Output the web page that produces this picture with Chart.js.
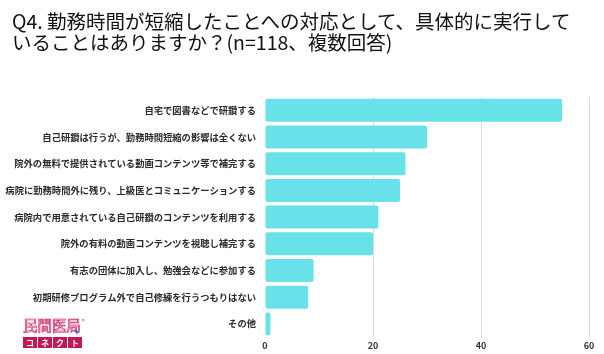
<!DOCTYPE html>
<html>
<head>
<meta charset="utf-8">
<script src="https://cdn.jsdelivr.net/npm/chart.js@4.4.1/dist/chart.umd.min.js"></script>
<style>
  body { margin: 0; background: #fff; }
  .wrap { position: relative; width: 604px; height: 354px; }
  .title { position: absolute; left: 12px; top: 11px; font-family: 'Noto Sans CJK JP', sans-serif; font-size: 19.5px; line-height: 20.5px; color: #111; white-space: nowrap; }
  .logo { position: absolute; left: 23px; top: 317px; font-family: 'Noto Sans CJK JP', sans-serif; }
  .logo .name { font-size: 14.5px; line-height: 16px; color: #fff; -webkit-text-stroke: 0.7px #d0185f; position: relative; }
  .logo .plus { position: absolute; left: 51px; top: 7px; color: #1e6fd0; font-size: 9px; font-weight: bold; -webkit-text-stroke: 0; }
  .logo .reg { position: absolute; left: 59px; top: -4px; color: #d0185f; font-size: 5px; -webkit-text-stroke: 0; }
  .logo .boxes { display: flex; gap: 1px; margin-top: 4px; }
  .logo .boxes span { width: 14px; height: 11px; background: #c2185b; color: #fff; font-size: 8px; line-height: 11px; text-align: center; font-weight: bold; }
</style>
</head>
<body>
<div class="wrap">
  <canvas id="chart"></canvas>
  <div class="title" id="title"></div>
  <div class="logo">
    <div class="name">民間医局<span class="plus">+</span><span class="reg">®</span></div>
    <div class="boxes"><span>コ</span><span>ネ</span><span>ク</span><span>ト</span></div>
  </div>
</div>
<script>
const titleLines = [
  'Q4. 勤務時間が短縮したことへの対応として、具体的に実行して',
  'いることはありますか？(n=118、複数回答)'
];
const categories = [
  '自宅で図書などで研鑽する',
  '自己研鑽は行うが、勤務時間短縮の影響は全くない',
  '院外の無料で提供されている動画コンテンツ等で補完する',
  '病院に勤務時間外に残り、上級医とコミュニケーションする',
  '病院内で用意されている自己研鑽のコンテンツを利用する',
  '院外の有料の動画コンテンツを視聴し補完する',
  '有志の団体に加入し、勉強会などに参加する',
  '初期研修プログラム外で自己修練を行うつもりはない',
  'その他'
];
const counts = [55, 30, 26, 25, 21, 20, 9, 8, 1];
const xTicks = [0, 20, 40, 60];

document.getElementById('title').innerHTML = titleLines.join('<br>');

const ctx = document.getElementById('chart');
new Chart(ctx, {
  type: 'bar',
  data: {
    labels: categories,
    datasets: [{
      data: counts,
      backgroundColor: '#68e2e8',
      borderRadius: 2,
      borderSkipped: false,
      barPercentage: 0.86,
      categoryPercentage: 1,
    }],
  },
  options: {
    indexAxis: 'y',
    responsive: true,
    maintainAspectRatio: false,
    animation: false,
    layout: {
      padding: { top: 97, bottom: 0, left: 0, right: 15 },
    },
    scales: {
      x: {
        min: 0,
        max: 60,
        afterBuildTicks: (scale) => {
          scale.ticks = xTicks.map((v) => ({ value: v }));
        },
        border: { display: false },
        grid: {
          drawTicks: false,
          color: (c) => (c.tick && c.tick.value === 0 ? 'rgba(0,0,0,0)' : '#dcdcdc'),
          lineWidth: 1,
        },
        ticks: {
          padding: 3,
          color: '#333',
          font: { family: 'Noto Sans CJK JP', size: 9, weight: 'bold' },
        },
      },
      y: {
        afterFit: (scale) => {
          scale.width = 265;
        },
        border: { display: false },
        grid: { display: false, drawTicks: false },
        ticks: {
          padding: 9,
          color: '#2a2a2a',
          autoSkip: false,
          font: { family: 'Noto Sans CJK JP', size: 9.3, weight: 'bold' },
        },
      },
    },
    plugins: {
      legend: { display: false },
      tooltip: { enabled: false },
    },
  },
});
</script>
</body>
</html>
